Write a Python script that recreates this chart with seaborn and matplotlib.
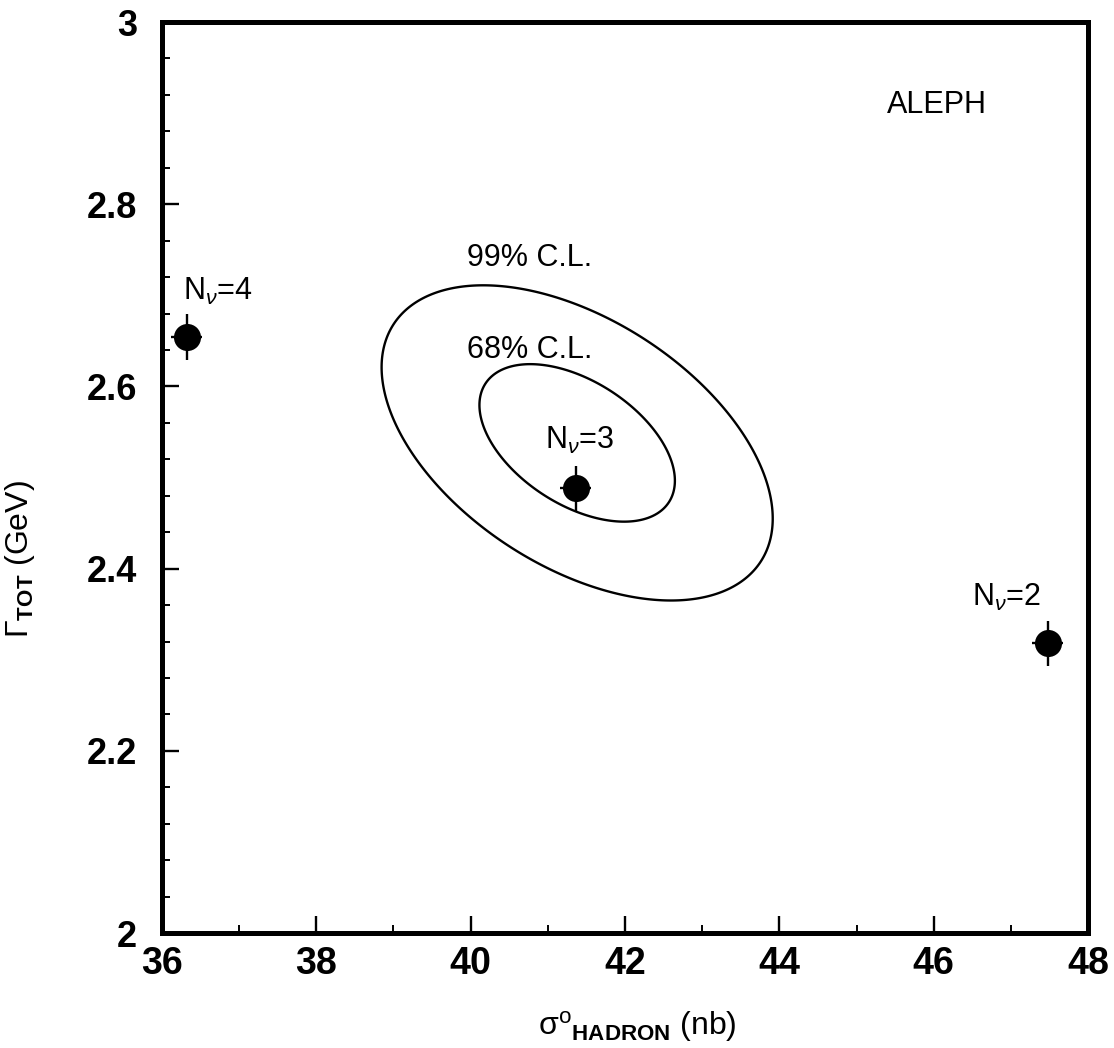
import numpy as np
import pandas as pd
import matplotlib
matplotlib.use("Agg")
import matplotlib.pyplot as plt
import seaborn as sns

# Standard-model predictions for different numbers of light neutrino species
nu_labels = [r"N$_\nu$=4", r"N$_\nu$=3", r"N$_\nu$=2"]
sigma_had = [36.32, 41.36, 47.48]      # peak hadronic cross section (nb)
gamma_tot = [2.654, 2.488, 2.318]      # total Z width (GeV)
sigma_err = [0.20, 0.20, 0.20]
gamma_err = [0.025, 0.025, 0.025]

# Fit result: centre, widths and correlation of the measured (sigma, Gamma)
fit_center = [41.38, 2.538]
fit_sigma = [0.835, 0.057]
fit_rho = -0.48
cl_levels = [2.30, 9.21]               # delta chi2 for 68% and 99% C.L. (2 params)
cl_labels = ["68% C.L.", "99% C.L."]

df = pd.DataFrame({"sigma": sigma_had, "gamma": gamma_tot, "label": nu_labels})

sns.set_theme(style="ticks")
plt.rcParams["font.family"] = ["Liberation Sans", "DejaVu Sans"]
plt.rcParams["mathtext.fontset"] = "custom"
plt.rcParams["mathtext.rm"] = "Liberation Sans"
plt.rcParams["mathtext.it"] = "Liberation Sans:italic"
plt.rcParams["mathtext.bf"] = "Liberation Sans:bold"
for key in ["text.color", "axes.labelcolor", "xtick.color", "ytick.color"]:
    plt.rcParams[key] = "black"

fig = plt.figure(figsize=(11.14, 10.48), dpi=100)
ax = fig.add_axes([0.1454, 0.1097, 0.8313, 0.8693])

# Confidence-level contours from the Gaussian chi2 surface
gx = np.linspace(36, 48, 600)
gy = np.linspace(2, 3, 600)
X, Y = np.meshgrid(gx, gy)
u = (X - fit_center[0]) / fit_sigma[0]
v = (Y - fit_center[1]) / fit_sigma[1]
chi2 = (u**2 - 2 * fit_rho * u * v + v**2) / (1 - fit_rho**2)
ax.contour(X, Y, chi2, levels=cl_levels, colors="black", linewidths=1.7)

# Predictions with error bars
ax.errorbar(df["sigma"], df["gamma"], xerr=sigma_err, yerr=gamma_err,
            fmt="none", ecolor="black", elinewidth=1.7, capsize=0, zorder=3)
sns.scatterplot(data=df, x="sigma", y="gamma", ax=ax, color="black",
                s=380, edgecolor="black", linewidth=0, zorder=4, legend=False)

txt_kw = dict(fontsize=22, color="black", va="center", ha="left")
ax.text(36.27, 2.704, nu_labels[0], **txt_kw)
ax.text(40.96, 2.541, nu_labels[1], **txt_kw)
ax.text(46.49, 2.368, nu_labels[2], **txt_kw)
ax.text(39.95, 2.741, cl_labels[1], **txt_kw)
ax.text(39.95, 2.640, cl_labels[0], **txt_kw)
ax.text(45.39, 2.909, "ALEPH", **txt_kw)

ax.set_xlim(36, 48)
ax.set_ylim(2, 3)
ax.set_xticks(np.arange(36, 48.1, 2))
ax.set_xticks(np.arange(36, 48.1, 1), minor=True)
ax.set_yticks([2, 2.2, 2.4, 2.6, 2.8, 3])
ax.set_yticklabels(["2", "2.2", "2.4", "2.6", "2.8", "3"])
ax.set_yticks(np.arange(2, 3.001, 0.04), minor=True)
ax.set_xticklabels([str(v) for v in range(36, 49, 2)])

ax.tick_params(axis="both", which="major", direction="in", length=12,
               width=1.7, color="black")
ax.tick_params(axis="both", which="minor", direction="in", length=6,
               width=1.4, color="black")
ax.tick_params(axis="x", which="major", labelsize=27, pad=9)
ax.tick_params(axis="y", which="major", labelsize=26, pad=18)
for lab in ax.get_xticklabels() + ax.get_yticklabels():
    lab.set_fontweight("bold")

for s in ax.spines.values():
    s.set_linewidth(3.6)
    s.set_color("black")

ax.set_xlabel(r"σ$^{\mathrm{o}}{}_{\mathbf{HADRON}}$ (nb)", fontsize=23)
ax.set_ylabel(r"Γ$_{\mathbf{TOT}}$ (GeV)", fontsize=23)
ax.xaxis.set_label_coords(0.513, -0.083)
ax.yaxis.set_label_coords(-0.135, 0.41)

fig.savefig("out.png", dpi=100, facecolor="white")
